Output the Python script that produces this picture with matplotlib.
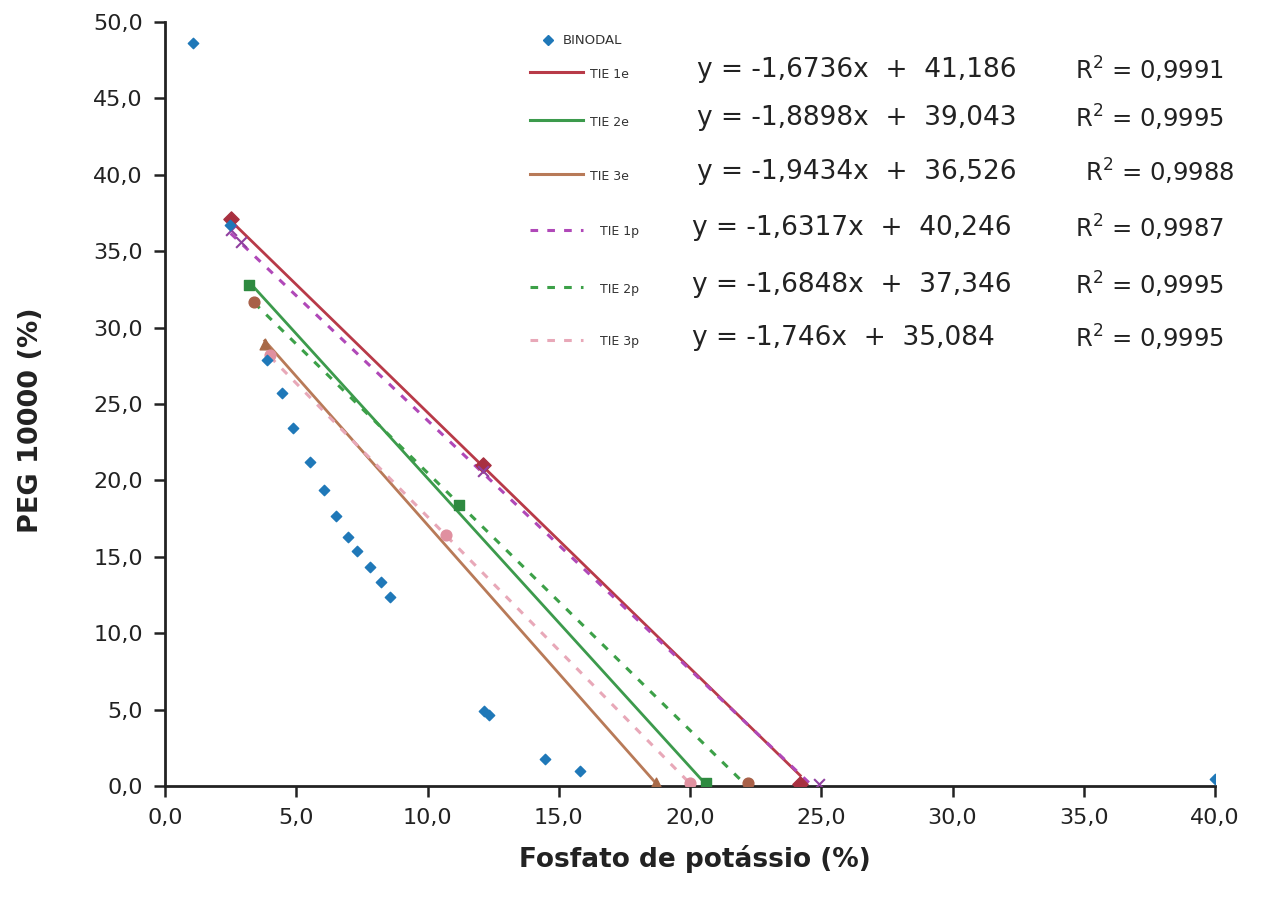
import numpy as np
import matplotlib
matplotlib.use("Agg")
import matplotlib.pyplot as plt
from matplotlib.lines import Line2D
from matplotlib.ticker import FuncFormatter

plt.rcParams['font.family'] = ['DejaVu Sans']

# Curva binodal
binodal_x = [1.07, 2.48, 3.89, 4.46, 4.88, 5.52, 6.06, 6.51, 6.97, 7.30, 7.80, 8.23, 8.57,
             12.15, 12.34, 14.48, 15.80, 40.0]
binodal_y = [48.6, 36.7, 27.9, 25.7, 23.4, 21.2, 19.4, 17.7, 16.3, 15.4, 14.3, 13.35, 12.4,
             4.9, 4.65, 1.77, 0.98, 0.46]

# Linhas de amarração (pontos)
tie_names = ["TIE 1e", "TIE 2e", "TIE 3e", "TIE 1p", "TIE 2p", "TIE 3p"]
tie_x = [[2.5, 12.1, 24.2], [3.2, 11.2, 20.6], [3.8, 18.7],
         [2.5, 2.9, 12.1, 24.9], [3.4, 22.2], [4.0, 10.7, 20.0]]
tie_y = [[37.1, 21.0, 0.1], [32.8, 18.4, 0.2], [28.9, 0.2],
         [36.4, 35.6, 20.6, 0.1], [31.7, 0.2], [28.2, 16.4, 0.2]]
tie_slope = [-1.6736, -1.8898, -1.9434, -1.6317, -1.6848, -1.746]
tie_icpt = [41.186, 39.043, 36.526, 40.246, 37.346, 35.084]
tie_eq = ["y = -1,6736x  +  41,186", "y = -1,8898x  +  39,043", "y = -1,9434x  +  36,526",
          "y = -1,6317x  +  40,246", "y = -1,6848x  +  37,346", "y = -1,746x  +  35,084"]
tie_r2 = ["0,9991", "0,9995", "0,9988", "0,9987", "0,9995", "0,9995"]

colors = ['#B83A48', '#3C9A4C', '#B87A58', '#B048B8', '#3CA048', '#E8A8B8']
styles = ['-', '-', '-', (0, (2.5, 3)), (0, (2.5, 3)), (0, (2.5, 3))]
mcolors = ['#A83040', '#2E8A40', '#A86A48', '#9040A0', '#A86048', '#E090A0']
markers = ['D', 's', '^', 'x', 'o', 'o']

fig = plt.figure(figsize=(12.61, 9.06), dpi=100)
ax = fig.add_axes([165/1261, 1-786/906, (1215-165)/1261, (786-22)/906])

ax.scatter(binodal_x, binodal_y, marker='D', s=28, color='#1F78B8', zorder=5)

for i in range(6):
    xs = np.array([min(tie_x[i]), max(tie_x[i])])
    ys = tie_slope[i] * xs + tie_icpt[i]
    ax.plot(xs, ys, color=colors[i], lw=2 if i < 3 else 2.2, linestyle=styles[i], zorder=3)
    ax.scatter(tie_x[i], tie_y[i], marker=markers[i], s=60, color=mcolors[i], zorder=4)

ax.set_xlim(0, 40)
ax.set_ylim(0, 50)
ax.set_xticks(np.arange(0, 41, 5))
ax.set_yticks(np.arange(0, 51, 5))
fmt = FuncFormatter(lambda v, p: f"{v:.1f}".replace('.', ','))
ax.xaxis.set_major_formatter(fmt)
ax.yaxis.set_major_formatter(fmt)
ax.tick_params(labelsize=16, length=8, width=1.8, color='#222222', labelcolor='#222222', pad=8)
for s in ['top', 'right']:
    ax.spines[s].set_visible(False)
for s in ['left', 'bottom']:
    ax.spines[s].set_linewidth(2)
    ax.spines[s].set_color('#222222')

ax.set_xlabel("Fosfato de potássio (%)", fontsize=19, fontweight='bold', color='#222222')
ax.set_ylabel("PEG 10000 (%)", fontsize=19.5, fontweight='bold', color='#222222')
ax.xaxis.set_label_coords(0.505, -0.077)
ax.yaxis.set_label_coords(-0.115, 0.479)

# Legenda manual
def fx(px):
    return px / 1261

def fy(py):
    return 1 - py / 906

fig.add_artist(Line2D([fx(548)], [fy(40)], marker='D', markersize=5, color='#1F78B8',
                      transform=fig.transFigure))
fig.text(fx(563), fy(40), "BINODAL", fontsize=9.5, va='center', color='#333333')

row_y = [70, 118, 172, 228, 285, 338]
eq_x = [697, 697, 697, 692, 692, 692]
r2_x = [1075, 1075, 1085, 1075, 1075, 1075]
for i in range(6):
    y = row_y[i]
    fig.add_artist(Line2D([fx(530), fx(583)], [fy(y + 2), fy(y + 2)], color=colors[i], lw=2.2,
                          linestyle=styles[i], transform=fig.transFigure))
    fig.text(fx(590 if i < 3 else 600), fy(y + 4), tie_names[i], fontsize=9, va='center',
             color='#333333')
    fig.text(fx(eq_x[i]), fy(y), tie_eq[i], fontsize=19, va='center', color='#222222')
    fig.text(fx(r2_x[i]), fy(y), "R$^2$ = " + tie_r2[i], fontsize=17.5, va='center',
             color='#222222')

fig.savefig("out.png", dpi=100)
